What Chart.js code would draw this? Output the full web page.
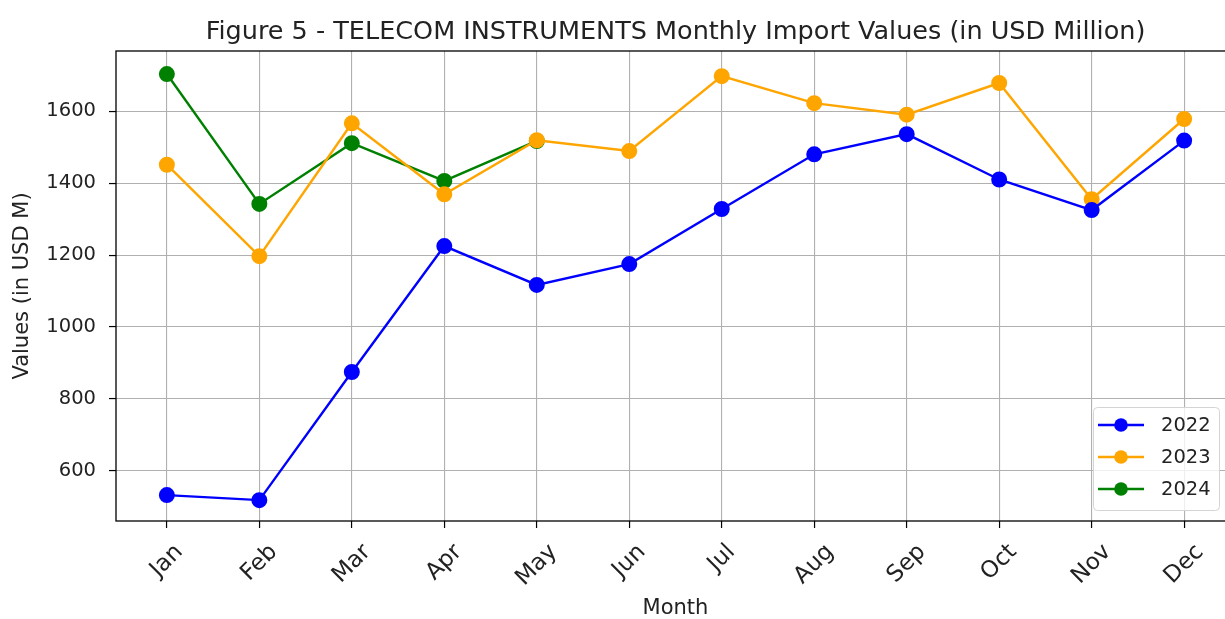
<!DOCTYPE html>
<html>
<head>
<meta charset="utf-8">
<script src="https://cdn.jsdelivr.net/npm/chart.js@4/dist/chart.umd.min.js"></script>
<style>
  html, body { margin: 0; padding: 0; background: #fff; overflow: hidden; width: 1225px; height: 619px; }
  #wrap { width: 1245px; height: 619px; }
</style>
</head>
<body>
<div id="wrap"><canvas id="c" width="1245" height="619"></canvas></div>
<script>
const months = ['Jan', 'Feb', 'Mar', 'Apr', 'May', 'Jun', 'Jul', 'Aug', 'Sep', 'Oct', 'Nov', 'Dec'];
const v2022 = [533, 519, 875, 1225, 1117, 1175, 1328, 1480, 1536, 1410, 1325, 1518];
const v2023 = [1451, 1197, 1566, 1369, 1519, 1489, 1697, 1622, 1590, 1678, 1355, 1578];
const v2024 = [1703, 1342, 1511, 1406, 1517];
const yTicks = [600, 800, 1000, 1200, 1400, 1600];
const seriesNames = ['2022', '2023', '2024'];
const seriesColors = ['#0000ff', '#ffa500', '#008000'];
const chartTitle = 'Figure 5 - TELECOM INSTRUMENTS Monthly Import Values (in USD Million)';

const FONT = "'DejaVu Sans', sans-serif";
const TXT = '#222222';
const toPts = arr => arr.map((v, i) => ({ x: i, y: v }));
const mkDs = (label, data, color) => ({
  label, data: toPts(data), borderColor: color, backgroundColor: color,
  pointBackgroundColor: color, pointBorderColor: color,
  borderWidth: 2.4, pointRadius: 6.8, pointHoverRadius: 6.8, tension: 0
});

const framePlugin = {
  id: 'frame',
  afterDraw(chart) {
    const { ctx, chartArea: a, scales } = chart;
    ctx.save();
    ctx.strokeStyle = '#000';
    ctx.lineWidth = 1.3;
    ctx.strokeRect(a.left, a.top, a.right - a.left, a.bottom - a.top);
    // title centred over the plot area (matplotlib style)
    ctx.fillStyle = TXT;
    ctx.font = "25.5px " + FONT;
    ctx.textAlign = 'center';
    ctx.textBaseline = 'alphabetic';
    ctx.fillText(chartTitle, (a.left + a.right) / 2, 39);
    // rotated month labels (matplotlib rotation=45, ha=center)
    const fs = 23;
    ctx.font = fs + "px " + FONT;
    ctx.textAlign = 'center';
    ctx.textBaseline = 'middle';
    const s = Math.SQRT1_2;
    scales.x.ticks.forEach(t => {
      const lbl = months[t.value];
      const w = ctx.measureText(lbl).width;
      const h = fs * 0.8;
      const cx = scales.x.getPixelForValue(t.value);
      const cy = a.bottom + 21 + (w + h) * s / 2;
      ctx.save();
      ctx.translate(cx, cy);
      ctx.rotate(-Math.PI / 4);
      ctx.fillText(lbl, 0, 0);
      ctx.restore();
    });
    // legend
    const bx = 1093, by = 407, bw = 126, bh = 103;
    ctx.fillStyle = 'rgba(255,255,255,0.8)';
    ctx.strokeStyle = '#d4d4d4';
    ctx.lineWidth = 1;
    ctx.beginPath();
    if (ctx.roundRect) ctx.roundRect(bx + 0.5, by + 0.5, bw, bh, 4); else ctx.rect(bx + 0.5, by + 0.5, bw, bh);
    ctx.fill();
    ctx.stroke();
    ctx.font = "19.5px " + FONT;
    ctx.textAlign = 'left';
    ctx.textBaseline = 'middle';
    seriesNames.forEach((n, i) => {
      const y = 425 + i * 32;
      ctx.strokeStyle = seriesColors[i];
      ctx.lineWidth = 2.4;
      ctx.beginPath(); ctx.moveTo(1098, y); ctx.lineTo(1144, y); ctx.stroke();
      ctx.fillStyle = seriesColors[i];
      ctx.beginPath(); ctx.arc(1121, y, 6.8, 0, Math.PI * 2); ctx.fill();
      ctx.fillStyle = TXT;
      ctx.fillText(n, 1161, y + 1);
    });
    ctx.restore();
  }
};

new Chart(document.getElementById('c'), {
  type: 'line',
  data: { datasets: [mkDs('2022', v2022, seriesColors[0]), mkDs('2023', v2023, seriesColors[1]), mkDs('2024', v2024, seriesColors[2])] },
  options: {
    responsive: false,
    devicePixelRatio: 1,
    animation: false,
    layout: { padding: { left: 0, right: 10, top: 51, bottom: 0 } },
    plugins: {
      legend: { display: false },
      tooltip: { enabled: false },
      title: { display: false }
    },
    scales: {
      x: {
        type: 'linear',
        min: -0.55, max: 11.55,
        afterBuildTicks: s => { s.ticks = months.map((m, i) => ({ value: i })); },
        afterFit: s => { s.height = 98; },
        ticks: { display: false },
        grid: { color: '#b0b0b0', lineWidth: 1.1, drawTicks: true, tickLength: 7, tickColor: '#000', tickWidth: 1.2 },
        border: { display: false },
        title: { display: true, text: 'Month', color: TXT, font: { family: FONT, size: 21, lineHeight: 1.0 }, padding: { top: -2, bottom: 0 } }
      },
      y: {
        type: 'linear',
        min: 461, max: 1767,
        afterBuildTicks: s => { s.ticks = yTicks.map(v => ({ value: v })); },
        afterFit: s => { s.width = 116; },
        ticks: { color: TXT, font: { family: FONT, size: 19.5 }, padding: 13, callback: v => String(v) },
        grid: { color: '#b0b0b0', lineWidth: 1.1, drawTicks: true, tickLength: 7, tickColor: '#000', tickWidth: 1.2 },
        border: { display: false },
        title: { display: true, text: 'Values (in USD M)', color: TXT, font: { family: FONT, size: 21, lineHeight: 1.0 }, padding: { top: 12.5, bottom: 0 } }
      }
    }
  },
  plugins: [framePlugin]
});
</script>
</body>
</html>
